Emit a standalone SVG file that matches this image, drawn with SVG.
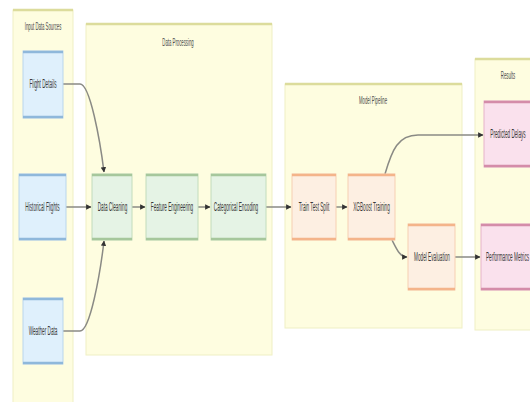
<svg xmlns="http://www.w3.org/2000/svg" width="530" height="402" viewBox="0 0 530 402">
<style>
.cl{fill:#fefde0;stroke:#efefc4;stroke-width:1}
.clt{stroke:#dcdc9c;stroke-width:2.5}
.t{font-family:"Liberation Sans",Arial,sans-serif;font-size:12px;fill:#3a3a3a;text-anchor:middle;dominant-baseline:central}
.ct{font-family:"Liberation Sans",Arial,sans-serif;font-size:11px;fill:#4a4a4a;text-anchor:middle;dominant-baseline:central}
.b{fill:#dff0fc;stroke:#b9d6ec;stroke-width:1}
.bl{stroke:#8fb8db;stroke-width:2.5}
.g{fill:#e5f3e5;stroke:#c2dcbc;stroke-width:1}
.gl{stroke:#a6c79c;stroke-width:2.5}
.o{fill:#fdefe2;stroke:#f6cfb2;stroke-width:1}
.ol{stroke:#f4b48a;stroke-width:2.5}
.p{fill:#fae1ed;stroke:#e6b4ca;stroke-width:1}
.pl{stroke:#d48ca9;stroke-width:2.5}
.e{fill:none;stroke:#8a8a85;stroke-width:1.5}
</style>
<defs>
<marker id="ah" viewBox="0 0 10 10" refX="9" refY="5" markerWidth="3.6" markerHeight="3.6" orient="auto">
<path d="M0,0 L10,5 L0,10 z" fill="#333"/>
</marker>
</defs>
<rect width="530" height="402" fill="#ffffff"/>
<g id="cluster-input">
<rect class="cl" x="13" y="10" width="60" height="400"/>
<line class="clt" x1="13" y1="10" x2="73" y2="10"/>
<text class="ct" transform="translate(43,26) scale(0.39,1)">Input Data Sources</text>
</g>
<g id="cluster-processing">
<rect class="cl" x="86" y="24" width="186" height="331"/>
<line class="clt" x1="86" y1="24" x2="272" y2="24"/>
<text class="ct" transform="translate(178,42) scale(0.39,1)">Data Processing</text>
</g>
<g id="cluster-model">
<rect class="cl" x="285" y="84" width="177" height="244"/>
<line class="clt" x1="285" y1="84" x2="462" y2="84"/>
<text class="ct" transform="translate(373,100) scale(0.39,1)">Model Pipeline</text>
</g>
<g id="cluster-results">
<rect class="cl" x="475" y="59" width="70" height="271"/>
<line class="clt" x1="475" y1="59" x2="545" y2="59"/>
<text class="ct" transform="translate(508,75) scale(0.39,1)">Results</text>
</g>
<g id="connectors">
<path class="e" d="M63,84 L80,84 C90,84 100,140 104,172" marker-end="url(#ah)"/>
<path class="e" d="M66,207 L91,207" marker-end="url(#ah)"/>
<path class="e" d="M63,331 L80,331 C90,331 100,275 104,241" marker-end="url(#ah)"/>
<path class="e" d="M132,207 L145,207" marker-end="url(#ah)"/>
<path class="e" d="M198,207 L210,207" marker-end="url(#ah)"/>
<path class="e" d="M266,207 L291,207" marker-end="url(#ah)"/>
<path class="e" d="M336,207 L347,207" marker-end="url(#ah)"/>
<path class="e" d="M385,174 C392,150 398,135 418,135 L483,135" marker-end="url(#ah)"/>
<path class="e" d="M392,240 C397,250 400,257 407,257" marker-end="url(#ah)"/>
<path class="e" d="M455,257 L480,257" marker-end="url(#ah)"/>
</g>
<g id="node-flight-details">
<rect class="b" x="23" y="51" width="40" height="67"/>
<line class="bl" x1="23" y1="52" x2="63" y2="52"/><line class="bl" x1="23" y1="117" x2="63" y2="117"/>
<text class="t" transform="translate(43,84) scale(0.39,1)">Flight Details</text>
</g>
<g id="node-historical-flights">
<rect class="b" x="19" y="174" width="47" height="66"/>
<line class="bl" x1="19" y1="175" x2="66" y2="175"/><line class="bl" x1="19" y1="239" x2="66" y2="239"/>
<text class="t" transform="translate(42.5,207) scale(0.39,1)">Historical Flights</text>
</g>
<g id="node-weather-data">
<rect class="b" x="23" y="298" width="40" height="66"/>
<line class="bl" x1="23" y1="299" x2="63" y2="299"/><line class="bl" x1="23" y1="363" x2="63" y2="363"/>
<text class="t" transform="translate(43,331) scale(0.39,1)">Weather Data</text>
</g>
<g id="node-data-cleaning">
<rect class="g" x="92" y="174" width="40" height="66"/>
<line class="gl" x1="92" y1="175" x2="132" y2="175"/><line class="gl" x1="92" y1="239" x2="132" y2="239"/>
<text class="t" transform="translate(112.5,207) scale(0.39,1)">Data Cleaning</text>
</g>
<g id="node-feature-engineering">
<rect class="g" x="146" y="174" width="52" height="66"/>
<line class="gl" x1="146" y1="175" x2="198" y2="175"/><line class="gl" x1="146" y1="239" x2="198" y2="239"/>
<text class="t" transform="translate(172,207) scale(0.39,1)">Feature Engineering</text>
</g>
<g id="node-categorical-encoding">
<rect class="g" x="211" y="174" width="55" height="66"/>
<line class="gl" x1="211" y1="175" x2="266" y2="175"/><line class="gl" x1="211" y1="239" x2="266" y2="239"/>
<text class="t" transform="translate(236,207) scale(0.39,1)">Categorical Encoding</text>
</g>
<g id="node-train-test-split">
<rect class="o" x="292" y="174" width="44" height="66"/>
<line class="ol" x1="292" y1="175" x2="336" y2="175"/><line class="ol" x1="292" y1="239" x2="336" y2="239"/>
<text class="t" transform="translate(314,207) scale(0.39,1)">Train Test Split</text>
</g>
<g id="node-xgboost-training">
<rect class="o" x="348" y="174" width="47" height="66"/>
<line class="ol" x1="348" y1="175" x2="395" y2="175"/><line class="ol" x1="348" y1="239" x2="395" y2="239"/>
<text class="t" transform="translate(371.5,207) scale(0.39,1)">XGBoost Training</text>
</g>
<g id="node-model-evaluation">
<rect class="o" x="408" y="224" width="47" height="66"/>
<line class="ol" x1="408" y1="225" x2="455" y2="225"/><line class="ol" x1="408" y1="289" x2="455" y2="289"/>
<text class="t" transform="translate(432,257) scale(0.39,1)">Model Evaluation</text>
</g>
<g id="node-predicted-delays">
<rect class="p" x="484" y="101" width="60" height="66"/>
<line class="pl" x1="484" y1="102" x2="544" y2="102"/><line class="pl" x1="484" y1="166" x2="544" y2="166"/>
<text class="t" transform="translate(508,134) scale(0.39,1)">Predicted Delays</text>
</g>
<g id="node-performance-metrics">
<rect class="p" x="481" y="224" width="60" height="66"/>
<line class="pl" x1="481" y1="225" x2="541" y2="225"/><line class="pl" x1="481" y1="289" x2="541" y2="289"/>
<text class="t" transform="translate(507.5,257) scale(0.39,1)">Performance Metrics</text>
</g>
</svg>
